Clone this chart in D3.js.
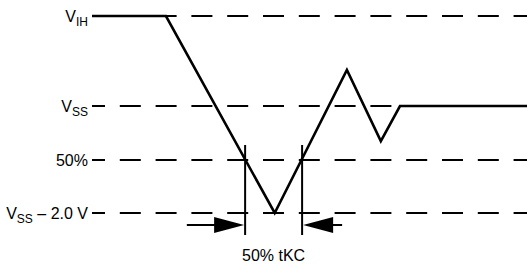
<!DOCTYPE html>
<meta charset="utf-8">
<script src="https://d3js.org/d3.v7.min.js"></script>
<style>
  body { margin: 0; background: #fff; }
  text { font-family: "Liberation Sans", Arial, sans-serif; fill: #000; }
</style>
<div id="my_dataviz"></div>
<script>

// reference levels (0 = VSS - 2.0 V, 1 = VIH)
var levelNames = ["VIH", "VSS", "50%", "VSS-2V"];
var levelValues = [1, 0.543, 0.269, 0];
var levelLabels = [
  [{t: "V"}, {t: "IH", sub: true}],
  [{t: "V"}, {t: "SS", sub: true}],
  [{t: "50%"}],
  [{t: "V"}, {t: "SS", sub: true}, {t: " \u2013 2.0 V", back: true}]
];

// waveform (time in % of the drawing width, level as above)
var waveT = [0, 17, 42, 58.6, 66.4, 70.8, 100];
var waveV = [1, 1, 0, 0.726, 0.365, 0.543, 0.543];

// tKC markers
var markerT = [35.2, 48.3];
var arrowTailT = [21.8, 57.5];
var caption = "50% tKC";

var width = 527, height = 265;

var svg = d3.select("#my_dataviz")
  .append("svg")
    .attr("width", width)
    .attr("height", height);

var x = d3.scaleLinear().domain([0, 100]).range([92, 527]);
var y = d3.scaleLinear().domain([0, 1]).range([213, 16]);

// dashed reference lines
svg.append("g")
  .selectAll("line")
  .data(levelValues)
  .enter()
  .append("line")
    .attr("x1", x(0))
    .attr("x2", x(100))
    .attr("y1", function(d) { return y(d); })
    .attr("y2", function(d) { return y(d); })
    .attr("stroke", "#000")
    .attr("stroke-width", 2)
    .attr("stroke-dasharray", "21,14.8")
    .attr("stroke-dashoffset", 8);

// labels
levelValues.forEach(function(v, i) {
  var t = svg.append("text")
    .attr("x", 88)
    .attr("y", y(v) + 6)
    .attr("text-anchor", "end")
    .style("font-size", "16px");
  levelLabels[i].forEach(function(p) {
    var s = t.append("tspan").text(p.t);
    if (p.sub) s.attr("dy", 4).style("font-size", "12px");
    if (p.back) s.attr("dy", -4);
  });
});

// waveform
var pts = waveT.map(function(t, i) { return [x(t), y(waveV[i])]; });
svg.append("path")
  .attr("d", d3.line()(pts))
  .attr("fill", "none")
  .attr("stroke", "#000")
  .attr("stroke-width", 2.6)
  .attr("stroke-linejoin", "miter");

// markers
svg.append("g")
  .selectAll("line")
  .data(markerT)
  .enter()
  .append("line")
    .attr("x1", function(d) { return x(d); })
    .attr("x2", function(d) { return x(d); })
    .attr("y1", 145)
    .attr("y2", 235)
    .attr("stroke", "#000")
    .attr("stroke-width", 2);

// arrows
var ay = 225;
markerT.forEach(function(m, i) {
  var tip = x(m), tail = x(arrowTailT[i]);
  var dir = tail < tip ? -1 : 1;
  svg.append("line")
    .attr("x1", tail).attr("x2", tip + dir * 10)
    .attr("y1", ay).attr("y2", ay)
    .attr("stroke", "#000")
    .attr("stroke-width", 2);
  svg.append("path")
    .attr("d", "M" + (tip + dir * 1) + "," + ay +
               "L" + (tip + dir * 31) + "," + (ay - 8) +
               "L" + (tip + dir * 31) + "," + (ay + 8) + "Z")
    .attr("fill", "#000");
});

svg.append("text")
  .attr("x", (x(markerT[0]) + x(markerT[1])) / 2)
  .attr("y", 261)
  .attr("text-anchor", "middle")
  .style("font-size", "16px")
  .text(caption);

</script>
